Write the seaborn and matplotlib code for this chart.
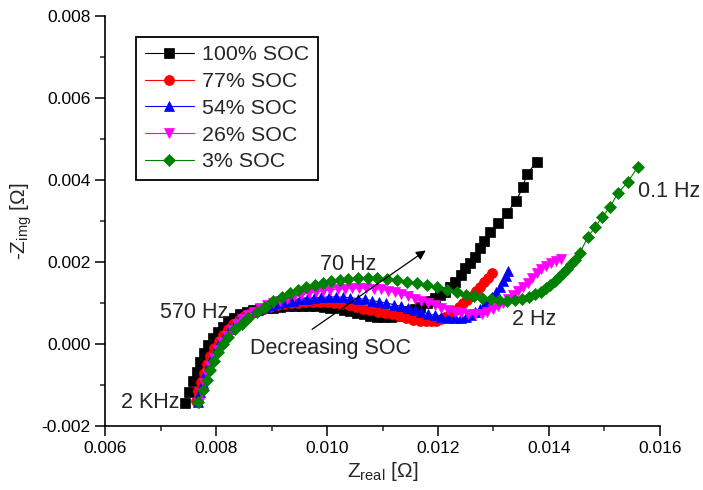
import matplotlib
matplotlib.use("Agg")
import matplotlib.pyplot as plt
from matplotlib.ticker import MultipleLocator, FormatStrFormatter
import seaborn as sns
import pandas as pd

# ---------------- data ----------------
labels = ["100% SOC", "77% SOC", "54% SOC", "26% SOC", "3% SOC"]

soc100_x = [0.00744, 0.00751, 0.00759, 0.00765, 0.00771, 0.00779, 0.00786, 0.00795, 0.00804, 0.00813,
            0.00822, 0.00833, 0.00843, 0.00855, 0.00867, 0.00879, 0.00891, 0.00903, 0.00916, 0.00929,
            0.00942, 0.00955, 0.00968, 0.00981, 0.00994, 0.01006, 0.01018, 0.01030, 0.01042, 0.01054,
            0.01066, 0.01078, 0.01090, 0.01103, 0.01115, 0.01127, 0.01138, 0.01148, 0.01158, 0.01168,
            0.01180, 0.01188, 0.01195, 0.01204, 0.01213, 0.01222, 0.01231, 0.01241, 0.01249, 0.01258,
            0.01267, 0.01276, 0.01283, 0.01294, 0.01309, 0.01324, 0.01341, 0.01353, 0.01360, 0.01379]
soc100_y = [-0.00145, -0.00116, -0.00090, -0.00068, -0.00045, -0.00023, -0.00002, 0.00015, 0.00029, 0.00042,
            0.00055, 0.00064, 0.00072, 0.00078, 0.00082, 0.00085, 0.00087, 0.00089, 0.00091, 0.00092,
            0.00093, 0.00093, 0.00093, 0.00092, 0.00091, 0.00089, 0.00087, 0.00084, 0.00080, 0.00076,
            0.00072, 0.00069, 0.00067, 0.00066, 0.00066, 0.00069, 0.00074, 0.00080, 0.00086, 0.00091,
            0.00099, 0.00106, 0.00112, 0.00120, 0.00128, 0.00140, 0.00152, 0.00168, 0.00185, 0.00197,
            0.00213, 0.00233, 0.00252, 0.00274, 0.00294, 0.00319, 0.00350, 0.00382, 0.00415, 0.00445]

soc77_x = [0.00764, 0.00768, 0.00773, 0.00778, 0.00784, 0.00790, 0.00797, 0.00805, 0.00813, 0.00822,
           0.00831, 0.00841, 0.00851, 0.00862, 0.00873, 0.00885, 0.00897, 0.00909, 0.00922, 0.00935,
           0.00948, 0.00961, 0.00974, 0.00987, 0.01000, 0.01013, 0.01026, 0.01039, 0.01052, 0.01065,
           0.01078, 0.01091, 0.01104, 0.01117, 0.01130, 0.01143, 0.01155, 0.01167, 0.01178, 0.01188,
           0.01197, 0.01205, 0.01213, 0.01221, 0.01229, 0.01237, 0.01245, 0.01253, 0.01261, 0.01269,
           0.01276, 0.01283, 0.01290, 0.01297]
soc77_y = [-0.00139, -0.00115, -0.00092, -0.00070, -0.00049, -0.00029, -0.00010, 0.00008, 0.00023, 0.00037,
           0.00049, 0.00059, 0.00068, 0.00075, 0.00081, 0.00086, 0.00090, 0.00094, 0.00097, 0.00099,
           0.00101, 0.00102, 0.00103, 0.00103, 0.00102, 0.00100, 0.00097, 0.00094, 0.00090, 0.00086,
           0.00082, 0.00079, 0.00076, 0.00072, 0.00068, 0.00063, 0.00059, 0.00056, 0.00055, 0.00055,
           0.00057, 0.00061, 0.00066, 0.00073, 0.00081, 0.00090, 0.00099, 0.00108, 0.00118, 0.00129,
           0.00140, 0.00151, 0.00162, 0.00173]

soc54_x = [0.00767, 0.00771, 0.00776, 0.00781, 0.00787, 0.00793, 0.00800, 0.00808, 0.00816, 0.00825,
           0.00834, 0.00844, 0.00854, 0.00865, 0.00876, 0.00888, 0.00900, 0.00912, 0.00925, 0.00938,
           0.00951, 0.00964, 0.00977, 0.00990, 0.01003, 0.01016, 0.01029, 0.01042, 0.01055, 0.01068,
           0.01081, 0.01094, 0.01107, 0.01120, 0.01133, 0.01146, 0.01158, 0.01170, 0.01182, 0.01194,
           0.01206, 0.01218, 0.01230, 0.01241, 0.01251, 0.01259, 0.01267, 0.01275, 0.01283, 0.01290,
           0.01297, 0.01304, 0.01311, 0.01317, 0.01322, 0.01326]
soc54_y = [-0.00141, -0.00117, -0.00094, -0.00072, -0.00051, -0.00031, -0.00012, 0.00006, 0.00022, 0.00036,
           0.00049, 0.00060, 0.00069, 0.00077, 0.00084, 0.00090, 0.00095, 0.00099, 0.00103, 0.00106,
           0.00109, 0.00111, 0.00113, 0.00114, 0.00115, 0.00115, 0.00114, 0.00113, 0.00111, 0.00109,
           0.00106, 0.00103, 0.00100, 0.00096, 0.00092, 0.00088, 0.00083, 0.00079, 0.00074, 0.00070,
           0.00067, 0.00064, 0.00063, 0.00063, 0.00066, 0.00071, 0.00077, 0.00085, 0.00094, 0.00104,
           0.00115, 0.00127, 0.00140, 0.00153, 0.00166, 0.00179]

soc26_x = [0.00770, 0.00774, 0.00779, 0.00784, 0.00790, 0.00796, 0.00803, 0.00811, 0.00819, 0.00828,
           0.00837, 0.00847, 0.00857, 0.00868, 0.00879, 0.00891, 0.00903, 0.00915, 0.00928, 0.00941,
           0.00954, 0.00967, 0.00980, 0.00993, 0.01006, 0.01019, 0.01032, 0.01045, 0.01058, 0.01071,
           0.01084, 0.01097, 0.01110, 0.01122, 0.01134, 0.01146, 0.01158, 0.01170, 0.01182, 0.01194,
           0.01206, 0.01218, 0.01230, 0.01242, 0.01254, 0.01266, 0.01279, 0.01289, 0.01299, 0.01309,
           0.01318, 0.01327, 0.01336, 0.01345, 0.01354, 0.01362, 0.01370, 0.01378, 0.01386, 0.01394,
           0.01403, 0.01412, 0.01421]
soc26_y = [-0.00143, -0.00119, -0.00096, -0.00074, -0.00053, -0.00033, -0.00014, 0.00004, 0.00020, 0.00035,
           0.00048, 0.00060, 0.00070, 0.00079, 0.00087, 0.00094, 0.00100, 0.00106, 0.00111, 0.00116,
           0.00120, 0.00124, 0.00127, 0.00130, 0.00132, 0.00134, 0.00135, 0.00136, 0.00136, 0.00136,
           0.00135, 0.00133, 0.00130, 0.00126, 0.00121, 0.00116, 0.00111, 0.00106, 0.00100, 0.00094,
           0.00088, 0.00083, 0.00079, 0.00076, 0.00074, 0.00073, 0.00073, 0.00078, 0.00085, 0.00092,
           0.00100, 0.00109, 0.00119, 0.00129, 0.00139, 0.00150, 0.00161, 0.00172, 0.00182, 0.00190,
           0.00197, 0.00202, 0.00207]

soc3_x = [0.00768, 0.00777, 0.00783, 0.00789, 0.00797, 0.00804, 0.00813, 0.00822, 0.00834, 0.00846,
          0.00858, 0.00873, 0.00888, 0.00903, 0.00918, 0.00933, 0.00948, 0.00963, 0.00978, 0.00993,
          0.01008, 0.01023, 0.01038, 0.01056, 0.01074, 0.01090, 0.01108, 0.01126, 0.01144, 0.01162,
          0.01180, 0.01198, 0.01216, 0.01234, 0.01250, 0.01265, 0.01280, 0.01295, 0.01310, 0.01325,
          0.01339, 0.01352, 0.01364, 0.01375, 0.01385, 0.01394, 0.01402, 0.01410, 0.01418, 0.01425,
          0.01432, 0.01439, 0.01447, 0.01456, 0.01470, 0.01483, 0.01496, 0.01510, 0.01524, 0.01542,
          0.01560]
soc3_y = [-0.00141, -0.00112, -0.00088, -0.00063, -0.00041, -0.00019, -0.00001, 0.00018, 0.00036, 0.00050,
          0.00063, 0.00077, 0.00091, 0.00104, 0.00115, 0.00124, 0.00132, 0.00139, 0.00145, 0.00150,
          0.00153, 0.00156, 0.00158, 0.00160, 0.00161, 0.00161, 0.00159, 0.00156, 0.00152, 0.00148,
          0.00143, 0.00138, 0.00132, 0.00126, 0.00120, 0.00116, 0.00112, 0.00109, 0.00107, 0.00106,
          0.00107, 0.00110, 0.00115, 0.00121, 0.00128, 0.00136, 0.00144, 0.00153, 0.00163, 0.00173,
          0.00183, 0.00194, 0.00205, 0.00223, 0.00261, 0.00285, 0.00310, 0.00334, 0.00368, 0.00395,
          0.00432]

xs = [soc100_x, soc77_x, soc54_x, soc26_x, soc3_x]
ys = [soc100_y, soc77_y, soc54_y, soc26_y, soc3_y]
colors = ["#000000", "#ff0000", "#0000ff", "#ff00ff", "#008000"]
markers = ["s", "o", "^", "v", "D"]
msizes = [6.5, 7.2, 7.8, 7.8, 6.2]

x_ticks = [0.006, 0.008, 0.010, 0.012, 0.014, 0.016]
y_ticks = [-0.002, 0.000, 0.002, 0.004, 0.006, 0.008]

# ---------------- style ----------------
sns.set_style("ticks")
plt.rcParams["font.family"] = ["Liberation Sans", "DejaVu Sans"]
plt.rcParams["mathtext.fontset"] = "custom"
plt.rcParams["mathtext.rm"] = "Liberation Sans"
plt.rcParams["mathtext.it"] = "Liberation Sans:italic"

fig = plt.figure(figsize=(7.03, 4.90), dpi=100)
ax = fig.add_axes([0.1494, 0.1306, 0.7894, 0.8367])

for lab, x, y, c, m, ms in zip(labels, xs, ys, colors, markers, msizes):
    df = pd.DataFrame({"x": x, "y": y})
    sns.lineplot(data=df, x="x", y="y", ax=ax, sort=False, estimator=None,
                 color=c, marker=m, markersize=ms, markeredgecolor=c,
                 markeredgewidth=0.5, linewidth=0.8, label=lab)

ax.set_xlim(x_ticks[0], x_ticks[-1])
ax.set_ylim(y_ticks[0], y_ticks[-1])
ax.set_xticks(x_ticks)
ax.set_yticks(y_ticks)
ax.xaxis.set_minor_locator(MultipleLocator(0.001))
ax.yaxis.set_minor_locator(MultipleLocator(0.001))
ax.xaxis.set_major_formatter(FormatStrFormatter("%.3f"))
ax.yaxis.set_major_formatter(FormatStrFormatter("%.3f"))
ax.tick_params(which="major", direction="out", length=7, width=1.1, labelsize=12.5, colors="black")
ax.tick_params(which="minor", direction="out", length=3.5, width=1.1)

sns.despine(ax=ax)
for s in ["left", "bottom"]:
    ax.spines[s].set_linewidth(1.2)
    ax.spines[s].set_color("black")

ax.set_xlabel(r"Z$_{\mathrm{real}}$ [Ω]", fontsize=15, labelpad=3)
ax.set_ylabel(r"-Z$_{\mathrm{img}}$ [Ω]", fontsize=15, labelpad=5)

leg = ax.legend(loc="upper left", bbox_to_anchor=(0.056, 0.949), borderaxespad=0,
                fontsize=15.4, handlelength=2.3, handletextpad=0.4, labelspacing=0.36,
                borderpad=0.4, fancybox=False, framealpha=1, edgecolor="black")
leg.get_frame().set_linewidth(1.3)

# annotations
fs = 15.5
ax.text(0.00735, -0.00143, "2 KHz", fontsize=fs, ha="right", va="center")
ax.text(0.00822, 0.00078, "570 Hz", fontsize=fs, ha="right", va="center")
ax.text(0.00987, 0.00194, "70 Hz", fontsize=fs, ha="left", va="center")
ax.text(0.00861, -0.00012, "Decreasing SOC", fontsize=fs, ha="left", va="center")
ax.text(0.01333, 0.00060, "2 Hz", fontsize=fs, ha="left", va="center")
ax.text(0.01560, 0.00372, "0.1 Hz", fontsize=fs, ha="left", va="center")
ax.annotate("", xy=(0.01182, 0.00232), xytext=(0.00969, 0.00032),
            arrowprops=dict(arrowstyle="-|>", color="black", lw=0.9, mutation_scale=14))

fig.savefig("out.png", dpi=100)
